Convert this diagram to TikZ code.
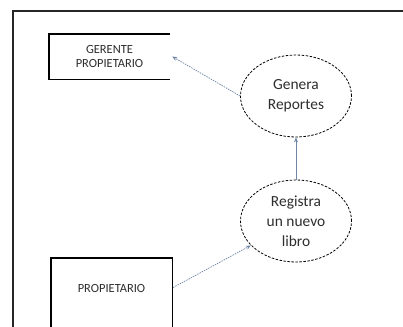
\documentclass[tikz,border=0pt]{standalone}
\usepackage{fontspec}
\setmainfont{Carlito}
\usetikzlibrary{shapes.geometric,arrows.meta}
\definecolor{arrowc}{HTML}{6F86A6}
\definecolor{txt}{HTML}{2E2E2E}
\begin{document}
\begin{tikzpicture}[x=1bp,y=-1bp,
  frame/.style={draw=black!85,line width=1.8bp},
  boxline/.style={draw=black,line width=1.4bp},
  proc/.style={ellipse,draw=black,dashed,dash pattern=on 2.5bp off 1.5bp,line width=0.8bp,minimum width=111bp,minimum height=82bp,inner sep=0pt,align=center,text=txt,font=\fontsize{15.5}{20}\selectfont},
  ent/.style={inner sep=0pt,align=center,text=txt,font=\fontsize{12.5}{14.5}\selectfont},
  flow/.style={draw=arrowc,line width=0.7bp,-{Stealth[length=5bp,width=4bp]}},
  dflow/.style={flow,dash pattern=on 1.5bp off 1bp}]
\useasboundingbox (0,0) rectangle (403,327);
\fill[white] (0,0) rectangle (403,327);
% frame
\draw[frame] (13,327) -- (13,11) -- (403,11);
% entity boxes
\node[ent,minimum width=121bp,minimum height=45bp] (ger) at (109.5,56.5) {GERENTE\\PROPIETARIO};
\draw[boxline] (ger.north east) -- (ger.north west) -- (ger.south west) -- (ger.south east);
\node[ent,minimum width=121bp,minimum height=60bp] (prop) at (111.5,288) {PROPIETARIO};
\draw[boxline] (prop.west |- 0,327) -- (prop.north west) -- (prop.north east) -- (prop.east |- 0,327);
% processes
\node[proc] (gen) at (296,96) {Genera\\Reportes};
\node[proc] (reg) at (296,221) {Registra\\un nuevo\\libro};
% flows
\draw[dflow] (gen.west) -- ([xshift=2bp]ger.east);
\draw[flow] (reg) -- (gen);
\draw[dflow,shorten <=1bp] (prop.east) -- (reg);
\end{tikzpicture}
\end{document}
